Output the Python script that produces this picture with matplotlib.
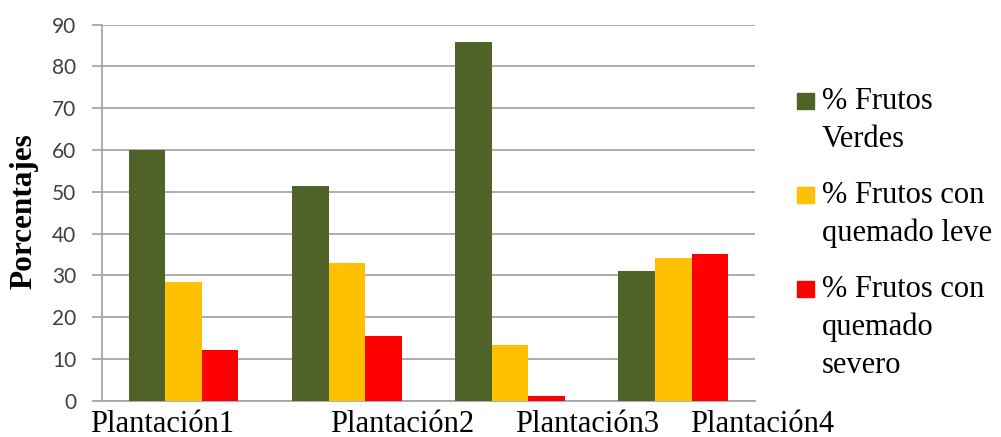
import matplotlib.pyplot as plt
from matplotlib.patches import Rectangle
import numpy as np

plantaciones = ["Plantación1", "Plantación2", "Plantación3", "Plantación4"]
series_names = [["% Frutos", "Verdes"],
                ["% Frutos con", "quemado leve"],
                ["% Frutos con", "quemado", "severo"]]
verdes = [60.0, 51.4, 85.8, 31.1]
quemado_leve = [28.4, 32.9, 13.3, 34.2]
quemado_severo = [12.1, 15.4, 1.1, 35.1]
# category labels sit a bit off the group centres
label_pos = [-0.134, 1.341, 2.469, 3.543]

colors = ["#4F6228", "#FFC000", "#FF0000"]
grid_c = "#A6A6A6"
serif = "Liberation Serif"

fig = plt.figure(figsize=(10.01, 4.37), dpi=100)
ax = fig.add_axes([0.1019, 0.0831, 0.6523, 0.8604])

x = np.arange(len(plantaciones))
w = 0.224
for k, vals in enumerate([verdes, quemado_leve, quemado_severo]):
    ax.bar(x + (k - 1) * w, vals, width=w, color=colors[k], zorder=3)

ax.set_xlim(-0.5, 3.5)
ax.set_ylim(0, 90)
ax.set_yticks(np.arange(0, 91, 10))
ax.set_xticks([])
ax.yaxis.grid(True, color=grid_c, linewidth=1.3, zorder=0)
ax.set_axisbelow(True)
ax.tick_params(axis="y", length=7.4, width=1.3, color=grid_c, labelsize=15,
               labelcolor="#404040", pad=11)
for lab in ax.get_yticklabels():
    lab.set_family("Lato")
for s in ["top", "right"]:
    ax.spines[s].set_visible(False)
for s in ["left", "bottom"]:
    ax.spines[s].set_color(grid_c)
    ax.spines[s].set_linewidth(1.3)

for pos, name in zip(label_pos, plantaciones):
    ax.text(pos, -0.0824, name, transform=ax.get_xaxis_transform(), ha="center",
            va="baseline", fontsize=22, family=serif, clip_on=False)

fig.text(0.024, 0.516, "Porcentajes", rotation=90, ha="center", va="center",
         fontsize=22.5, fontweight="bold", family=serif)

# legend boxes on the right, first text line on the box's lower edge
leg_base = [109.3, 203.3, 297.0]
line_step = 38
for k, lines in enumerate(series_names):
    yb = 1 - leg_base[k] / 437
    fig.add_artist(Rectangle((796.5 / 1001, yb), 17.5 / 1001, 16 / 437,
                             color=colors[k], transform=fig.transFigure))
    for j, line in enumerate(lines):
        fig.text(821.5 / 1001, yb - j * line_step / 437, line, ha="left",
                 va="baseline", fontsize=22, family=serif)

fig.savefig("out.png", dpi=100)
